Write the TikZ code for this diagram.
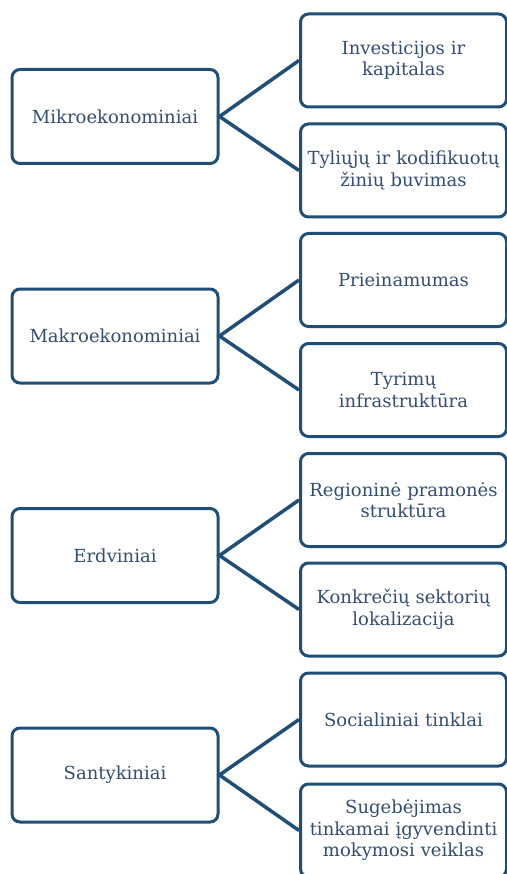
\documentclass[tikz,border=0pt]{standalone}
\usepackage{fontspec}
\setmainfont{DejaVu Serif}
\definecolor{boxblue}{RGB}{31,78,121}
\definecolor{txtblue}{RGB}{52,78,115}
\begin{document}
\begin{tikzpicture}[x=1pt,y=-1pt,
  catbox/.style={draw=boxblue, line width=3pt, rounded corners=8pt, fill=white,
    minimum width=206pt, minimum height=94pt, inner sep=1pt, align=center,
    text=txtblue, font=\fontsize{18}{21.5}\selectfont},
  subbox/.style={draw=boxblue, line width=3pt, rounded corners=8pt, fill=white,
    minimum width=204pt, minimum height=93pt, inner sep=1pt, align=center, text width=204pt,
    text=txtblue, font=\fontsize{18}{21.5}\selectfont},
  link/.style={draw=boxblue, line width=3.5pt}]
\useasboundingbox (0,0) rectangle (506,874);
\fill[white] (0,0) rectangle (506,874);
% group 1
\node[catbox] (c1) at (115,116.5) {Mikroekonominiai};
\node[subbox] (s11) at (403.5,60.5) {Investicijos ir\\kapitalas};
\node[subbox] (s12) at (403.5,170.5) {Tyliųjų ir kodifikuotų\\žinių buvimas};
% group 2
\node[catbox] (c2) at (115,336) {Makroekonominiai};
\node[subbox] (s21) at (403.5,280) {Prieinamumas};
\node[subbox] (s22) at (403.5,390) {Tyrimų\\infrastruktūra};
% group 3
\node[catbox] (c3) at (115,555.5) {Erdviniai};
\node[subbox] (s31) at (403.5,500) {Regioninė pramonės\\struktūra};
\node[subbox] (s32) at (403.5,609.5) {Konkrečių sektorių\\lokalizacija};
% group 4
\node[catbox] (c4) at (115,775) {Santykiniai};
\node[subbox] (s41) at (403.5,719.5) {Socialiniai tinklai};
\node[subbox] (s42) at (403.5,830.5) {Sugebėjimas\\tinkamai įgyvendinti\\mokymosi veiklas};
% connectors
\foreach \c/\a/\b in {c1/s11/s12, c2/s21/s22, c3/s31/s32, c4/s41/s42}{
  \draw[link] (\a.west) -- (\c.east) -- (\b.west);
}
\end{tikzpicture}
\end{document}
